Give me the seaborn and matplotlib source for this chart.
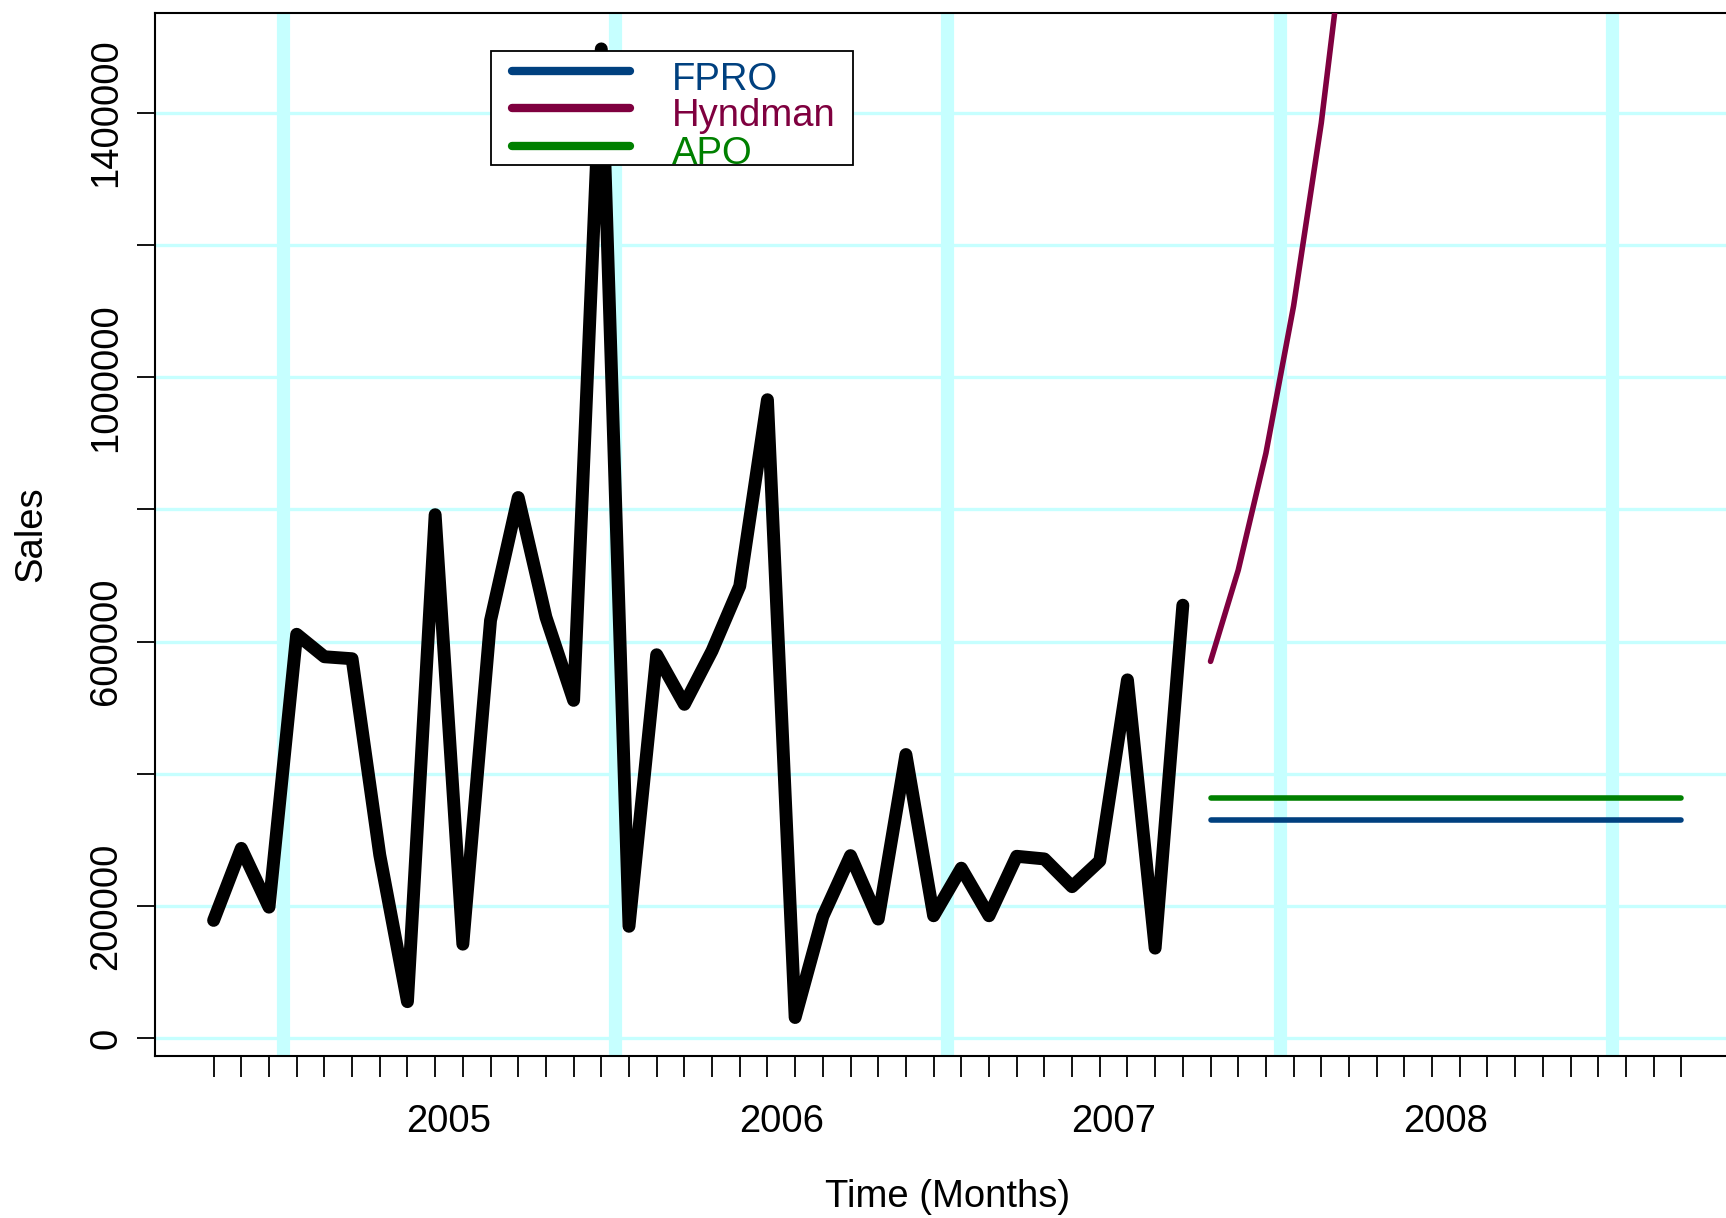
import numpy as np
import pandas as pd
import matplotlib
matplotlib.use("Agg")
import matplotlib.pyplot as plt
import seaborn as sns
from matplotlib.patches import Rectangle
from matplotlib.lines import Line2D

# ---------------- data ----------------
sales = [178000, 287000, 198000, 611000, 577000, 574000, 277000, 55000, 792000, 142000,
         632000, 818000, 637000, 511000, 1497000, 169000, 580000, 505000, 586000, 684000,
         966000, 31000, 184000, 276000, 180000, 429000, 185000, 257000, 185000, 275000,
         271000, 229000, 268000, 542000, 136000, 655000]
hyndman = [570000, 708000, 885000, 1108000, 1385000, 1730000]
fpro_level = [330000] * 18
apo_level = [363000] * 18
series_names = ["FPRO", "Hyndman", "APO"]
series_colors = ["#00407F", "#7F003F", "#008000"]
year_labels = ["2005", "2006", "2007", "2008"]
year_positions = [2005.5, 2006.5, 2007.5, 2008.5]
cyan_lines = [2005.0, 2006.0, 2007.0, 2008.0, 2009.0]
y_ticks = [0, 200000, 400000, 600000, 800000, 1000000, 1200000, 1400000]
y_ticklabels = ["0", "200000", "", "600000", "", "1000000", "", "1400000"]

start = 2004 + 9.5 / 12
t_hist = start + np.arange(len(sales)) / 12
t_fc = start + (len(sales) + np.arange(len(fpro_level))) / 12
t_hy = t_fc[:len(hyndman)]

hist_df = pd.DataFrame({"t": t_hist, "sales": sales})
fc_df = pd.DataFrame({"t": np.concatenate([t_fc, t_hy, t_fc]),
                      "val": fpro_level + hyndman + apo_level,
                      "method": ["FPRO"] * len(t_fc) + ["Hyndman"] * len(t_hy) + ["APO"] * len(t_fc)})

# ---------------- style ----------------
sns.set_theme(style="white")
plt.rcParams["font.family"] = ["Liberation Sans", "DejaVu Sans"]
for key in ["text.color", "axes.labelcolor", "xtick.color", "ytick.color"]:
    plt.rcParams[key] = "black"
FS = 27.5

W, H = 1726, 1218
fig = plt.figure(figsize=(W / 100, H / 100), dpi=100)
ax_left_px, ax_right_px = 154.9, 1740.0
ax_top_px, ax_bot_px = 13.2, 1055.7
ax = fig.add_axes([ax_left_px / W, 1 - ax_bot_px / H,
                   (ax_right_px - ax_left_px) / W, (ax_bot_px - ax_top_px) / H])

cyan = "#C6FFFF"
for yv in y_ticks:
    ax.axhline(yv, color=cyan, lw=2.4, zorder=0)
for xv in cyan_lines:
    ax.axvline(xv, color=cyan, lw=9.5, zorder=0.5, solid_capstyle="round")

sns.lineplot(data=hist_df, x="t", y="sales", ax=ax, color="black", lw=9.3,
             legend=False, sort=False, zorder=3)
for ln in ax.get_lines()[-1:]:
    ln.set_solid_capstyle("round")
    ln.set_solid_joinstyle("round")

pal = dict(zip(series_names, series_colors))
sns.lineplot(data=fc_df, x="t", y="val", hue="method", palette=pal, ax=ax, lw=4.0,
             legend=False, sort=False, zorder=3, estimator=None)
for ln in ax.get_lines()[-3:]:
    ln.set_solid_capstyle("round")
    ln.set_solid_joinstyle("round")

# ---------------- axes ----------------
ax.set_xlim(start - 2.12 / 12, start + 55.12 / 12)
ax.set_ylim(-26800, 1551000)

ax.set_yticks(y_ticks)
ax.set_yticklabels(y_ticklabels, rotation=90, va="center", fontsize=FS, color="black")
ax.tick_params(axis="y", which="major", direction="out", length=13, width=1.3,
               color="black", pad=9, left=True)

ax.set_xticks(year_positions)
ax.set_xticklabels(year_labels, fontsize=FS, color="black")
ax.set_xticks(start + np.arange(54) / 12, minor=True)
ax.tick_params(axis="x", which="major", length=0, pad=35)
ax.tick_params(axis="x", which="minor", direction="out", length=15, width=1.3,
               color="black", bottom=True)

ax.set_xlabel("Time (Months)", fontsize=FS, labelpad=28, color="black")
ax.set_ylabel("Sales", fontsize=FS, labelpad=28, color="black")

for side in ["left", "bottom", "top", "right"]:
    ax.spines[side].set_color("black")
    ax.spines[side].set_linewidth(1.5)
    ax.spines[side].set_visible(True)
ax.grid(False)

# ---------------- legend (R style) ----------------
def fx(px):
    return px / W

def fy(py):
    return 1 - py / H

fig.patches.append(Rectangle((fx(491), fy(165)), fx(853) - fx(491), fy(51) - fy(165),
                             transform=fig.transFigure, facecolor="white",
                             edgecolor="black", lw=1.3, zorder=10))
row_line_y = [70.5, 108.0, 145.5]
row_text_y = [90.0, 126.5, 164.0]
for name, col, ly, ty in zip(series_names, series_colors, row_line_y, row_text_y):
    fig.lines.append(Line2D([fx(512), fx(630)], [fy(ly), fy(ly)], transform=fig.transFigure,
                            color=col, lw=6, solid_capstyle="round", zorder=11))
    fig.text(fx(672), fy(ty), name, color=col, fontsize=FS, va="baseline", ha="left",
             zorder=12)

fig.savefig("out.png", dpi=100)
